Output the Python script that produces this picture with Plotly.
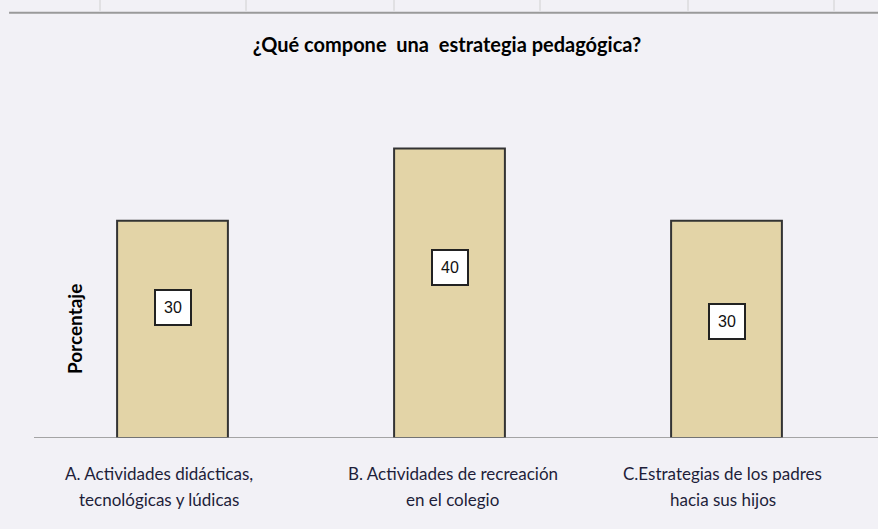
import plotly.graph_objects as go

# data
categories = [
    "A. Actividades didácticas,<br>tecnológicas y lúdicas",
    "B. Actividades de recreación<br>en el colegio",
    "C.Estrategias de los padres<br>hacia sus hijos",
]
porcentaje = [30, 40, 30]

title_text = "¿Qué compone&nbsp; una&nbsp; estrategia pedagógica?"
y_title = "Porcentaje"

BG = "#F2F1F6"
BAR = "#E3D4A7"
FONT = "Lato"

fig = go.Figure()
fig.add_trace(go.Bar(
    x=categories, y=porcentaje,
    width=0.4,
    marker=dict(color=BAR, line=dict(color="#333333", width=2)),
    hoverinfo="y",
))

# value boxes inside the bars (Excel placed them at slightly different heights)
label_frac = [0.6, 0.59, 0.535]
for cat, val, f in zip(categories, porcentaje, label_frac):
    fig.add_annotation(
        x=cat, y=val * f, text=str(val), showarrow=False,
        font=dict(family="Liberation Sans", size=16, color="#111111"),
        bgcolor="white", bordercolor="#222222", borderwidth=2, borderpad=8,
    )

# category labels, two lines each with Excel-like line spacing
label_shift = [-14, 3, -4]
for cat, dx in zip(categories, label_shift):
    for i, line in enumerate(cat.split("<br>")):
        fig.add_annotation(
            x=cat, xref="x", yref="paper", y=-0.097 - i * 0.074,
            text=line, showarrow=False, yanchor="middle", xshift=dx,
            font=dict(family=FONT, size=17, color="#1E1E3A"),
        )

# y axis title
fig.add_annotation(
    xref="paper", yref="paper", x=0.049, y=0.30, text="<b>" + y_title + "</b>",
    textangle=-90, showarrow=False, xanchor="center", yanchor="middle",
    font=dict(family=FONT, size=19, color="black"),
)

# spreadsheet grid line at the top of the picture
shapes = [dict(type="line", xref="paper", yref="paper", x0=-0.03, x1=1.1,
               y0=1.175, y1=1.175, line=dict(color="#9A9A9A", width=2))]
for px_x in [100, 246, 394, 540, 688, 834]:
    fx = (px_x - 34) / 831
    shapes.append(dict(type="line", xref="paper", yref="paper", x0=fx, x1=fx,
                       y0=1.18, y1=1.21, line=dict(color="#D0D0D0", width=1)))
# baseline
shapes.append(dict(type="line", xref="paper", yref="y", x0=0, x1=1.1,
                   y0=0, y1=0, line=dict(color="#8A8A8A", width=1.5)))

fig.update_layout(
    width=878, height=529,
    paper_bgcolor=BG, plot_bgcolor=BG,
    margin=dict(l=34, r=13, t=76, b=91),
    showlegend=False,
    title=dict(text="<b>" + title_text + "</b>", x=0.509, xanchor="center",
               y=0.915, yanchor="middle",
               font=dict(family=FONT, size=20, color="black")),
    shapes=shapes,
    bargap=0.6,
)
fig.update_xaxes(showline=False, showgrid=False, ticks="", showticklabels=False,
                 fixedrange=True)
fig.update_yaxes(range=[0, 50], showgrid=False, showline=False, zeroline=False,
                 showticklabels=False, ticks="", fixedrange=True)

fig.write_html("out.html", config={"displayModeBar": False},
               post_script="document.body.style.margin='0';document.body.style.overflow='hidden';")
